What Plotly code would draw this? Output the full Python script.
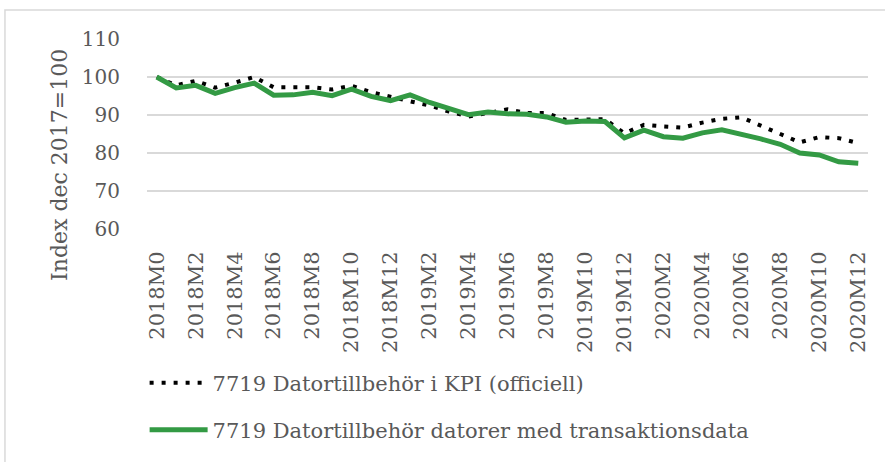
import plotly.graph_objects as go

categories = ["2018M0"] + [f"2018M{i}" for i in range(1, 13)] + \
             [f"2019M{i}" for i in range(1, 13)] + [f"2020M{i}" for i in range(1, 13)]

kpi_official = [100.0, 97.8, 99.0, 97.2, 98.5, 100.0, 97.3, 97.3, 97.3, 96.7,
                97.7, 96.0, 94.7, 93.6, 92.5, 90.9, 89.6, 90.5, 91.5, 90.5,
                90.5, 88.7, 88.7, 88.9, 85.2, 87.4, 87.0, 86.7, 88.0, 89.0,
                89.4, 87.2, 85.0, 82.8, 84.2, 83.9, 82.6]

transaction_data = [100.0, 97.1, 97.8, 95.7, 97.2, 98.4, 95.2, 95.3, 96.0, 95.1,
                    96.8, 94.9, 93.8, 95.3, 93.3, 91.7, 90.1, 90.8, 90.3, 90.2,
                    89.5, 88.1, 88.4, 88.3, 84.0, 86.0, 84.3, 83.9, 85.3, 86.1,
                    85.0, 83.7, 82.3, 80.0, 79.5, 77.7, 77.3]

series_names = ["7719 Datortillbehör i KPI (officiell)",
                "7719 Datortillbehör datorer med transaktionsdata"]

y_ticks = [60, 70, 80, 90, 100, 110]
x_tick_labels = categories[::2]
y_title = "Index dec 2017=100"

FONT = "DejaVu Serif"
TXT = "#595959"

fig = go.Figure()
fig.add_trace(go.Scatter(
    x=categories, y=kpi_official, mode="lines", name=series_names[0],
    line=dict(color="black", width=4, dash="4px,8px"),
    legend="legend",
))
fig.add_trace(go.Scatter(
    x=categories, y=transaction_data, mode="lines", name=series_names[1],
    line=dict(color="#339A44", width=5),
    legend="legend2",
))

leg_common = dict(xanchor="left", yanchor="middle",
                  font=dict(family=FONT, size=21, color=TXT),
                  bgcolor="rgba(0,0,0,0)", itemwidth=58)

fig.update_layout(
    width=885, height=462,
    margin=dict(l=147, r=17, t=39, b=233),
    paper_bgcolor="white", plot_bgcolor="white",
    font=dict(family=FONT, color=TXT, size=18),
    showlegend=True,
    legend=dict(x=-0.0033, y=-0.8105, **leg_common),
    legend2=dict(x=-0.0033, y=-1.058, **leg_common),
    xaxis=dict(
        type="category", range=[-0.5, len(categories) - 0.5],
        tickmode="array", tickvals=x_tick_labels, ticktext=x_tick_labels,
        tickangle=-90, showgrid=False, showline=False,
        ticks="outside", ticklen=13, tickcolor="rgba(0,0,0,0)",
        tickfont=dict(family=FONT, size=21, color=TXT),
    ),
    yaxis=dict(
        range=[60, 110], tickmode="array", tickvals=y_ticks,
        showgrid=True, gridcolor="#d9d9d9", gridwidth=1.5,
        zeroline=False, showline=False,
        ticks="outside", ticklen=22, tickcolor="rgba(0,0,0,0)",
        tickfont=dict(family=FONT, size=20, color=TXT),
    ),
    annotations=[dict(text=y_title, xref="paper", yref="paper",
                      x=-0.1207, y=0.337, xanchor="center", yanchor="middle",
                      textangle=-90, showarrow=False,
                      font=dict(family=FONT, size=22, color=TXT))],
    shapes=[dict(type="rect", xref="paper", yref="paper",
                 x0=-0.197, x1=1.05, y0=-1.4, y1=1.1526,
                 line=dict(color="#d9d9d9", width=1.5), fillcolor="rgba(0,0,0,0)",
                 layer="below")],
)

fig.write_html("out.html", config={"displayModeBar": False},
               post_script="document.body.style.margin='0px';")
